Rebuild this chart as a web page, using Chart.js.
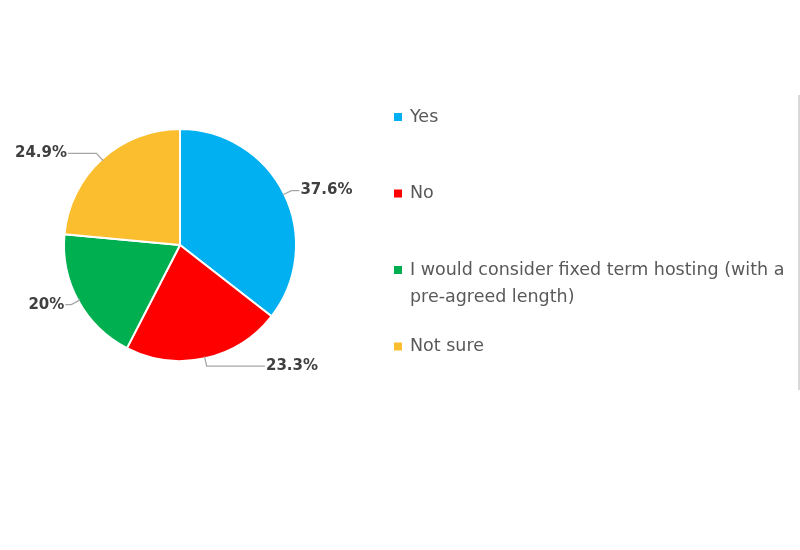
<!DOCTYPE html>
<html>
<head>
<meta charset="utf-8">
<script src="https://cdn.jsdelivr.net/npm/chart.js@4"></script>
<style>
  html, body { margin: 0; padding: 0; background: #fff; }
  #wrap { position: relative; width: 800px; height: 550px; }
  #edge { position: absolute; left: 798px; top: 95px; width: 2px; height: 295px; background: #d9d9d9; }
</style>
</head>
<body>
<div id="wrap">
  <canvas id="pieChart" width="800" height="550"></canvas>
  <div id="edge"></div>
</div>
<script>
const labels = ['Yes', 'No', 'I would consider fixed term hosting (with a pre-agreed length)', 'Not sure'];
const values = [37.6, 23.3, 20, 24.9];
const colors = ['#00B0F0', '#FF0000', '#00B050', '#FBBE2E'];

// leader lines + percentage labels
const sliceLabels = {
  id: 'sliceLabels',
  afterDatasetsDraw(chart) {
    const ctx = chart.ctx;
    const meta = chart.getDatasetMeta(0);
    ctx.save();
    ctx.font = 'bold 15px "DejaVu Sans"';
    ctx.fillStyle = '#404040';
    ctx.strokeStyle = '#a6a6a6';
    ctx.lineWidth = 1.3;
    ctx.textBaseline = 'middle';
    meta.data.forEach((arc, i) => {
      const p = arc.getProps(['x', 'y', 'startAngle', 'endAngle', 'outerRadius'], true);
      const a = (p.startAngle + p.endAngle) / 2;
      const r = p.outerRadius;
      const x0 = p.x + Math.cos(a) * (r - 2), y0 = p.y + Math.sin(a) * (r - 2);
      const x1 = p.x + Math.cos(a) * (r + 8), y1 = p.y + Math.sin(a) * (r + 8);
      const right = Math.cos(a) >= 0;
      let x2;
      if (right) x2 = Math.max(x1 + 8, p.x + 85);
      else x2 = Math.min(x1 - 6, p.x - 112);
      ctx.beginPath();
      ctx.moveTo(x0, y0);
      ctx.lineTo(x1, y1);
      ctx.lineTo(x2, y1);
      ctx.stroke();
      ctx.textAlign = right ? 'left' : 'right';
      ctx.fillText(values[i] + '%', right ? x2 + 1 : x2 - 1, y1);
    });
    ctx.restore();
  }
};

// legend on the right, wrapped text
const sideLegend = {
  id: 'sideLegend',
  afterDraw(chart) {
    const ctx = chart.ctx;
    ctx.save();
    ctx.font = '17.5px "DejaVu Sans"';
    ctx.textBaseline = 'middle';
    const maxW = 385;
    labels.forEach((lab, i) => {
      const y = 117 + i * 76.5;
      ctx.fillStyle = colors[i];
      ctx.fillRect(394, y - 4, 8, 8);
      ctx.fillStyle = '#595959';
      ctx.textAlign = 'left';
      const words = lab.split(' ');
      let line = '', ly = y;
      words.forEach(w => {
        const test = line ? line + ' ' + w : w;
        if (ctx.measureText(test).width > maxW && line) {
          ctx.fillText(line, 410, ly);
          line = w;
          ly += 27;
        } else line = test;
      });
      ctx.fillText(line, 410, ly);
    });
    ctx.restore();
  }
};

const ctx = document.getElementById('pieChart').getContext('2d');
const pieChart = new Chart(ctx, {
  type: 'pie',
  data: {
    labels: labels,
    datasets: [{
      data: values,
      backgroundColor: colors,
      borderColor: '#ffffff',
      borderWidth: 2
    }]
  },
  options: {
    responsive: false,
    animation: false,
    layout: { padding: { left: 63, top: 128, right: 503, bottom: 188 } },
    plugins: {
      legend: { display: false },
      tooltip: { enabled: false }
    }
  },
  plugins: [sliceLabels, sideLegend]
});
</script>
</body>
</html>
